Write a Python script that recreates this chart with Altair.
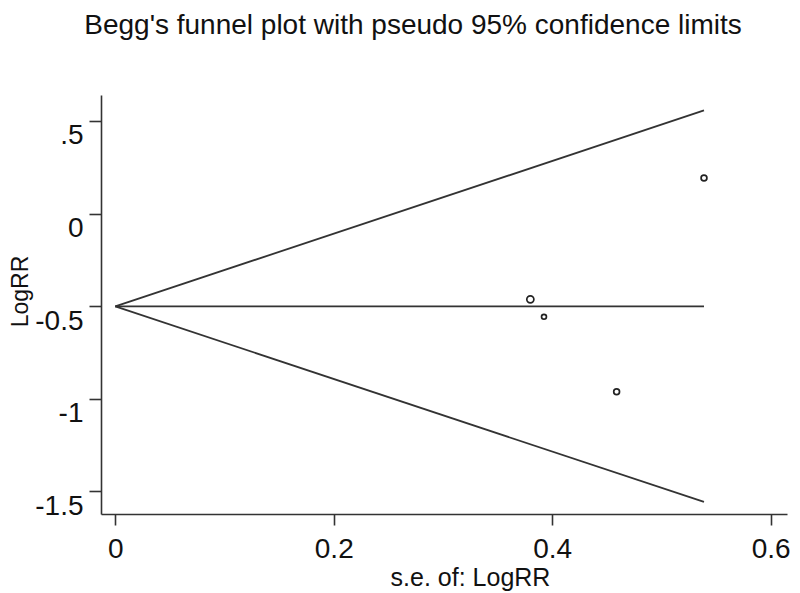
import altair as alt
import pandas as pd

# Study points
study_se = [0.539, 0.380, 0.3925, 0.459]
study_logrr = [0.192, -0.464, -0.558, -0.963]
study_size = [34, 50, 24, 34]

# Pseudo 95% confidence limit lines (end points)
funnel_se = [0.0, 0.539]
funnel_upper = [-0.502, 0.557]
funnel_center = [-0.502, -0.502]
funnel_lower = [-0.502, -1.559]

x_ticks = [0, 0.2, 0.4, 0.6]
y_ticks = [0.5, 0, -0.5, -1, -1.5]
y_tick_labels = [".5", "0", "-0.5", "-1", "-1.5"]

title_text = "Begg's funnel plot with pseudo 95% confidence limits"
FONT = "Liberation Sans"

points = pd.DataFrame({"se": study_se, "logrr": study_logrr, "sz": study_size})
lines = pd.DataFrame(
    [{"se": s, "logrr": v, "line": "upper"} for s, v in zip(funnel_se, funnel_upper)]
    + [{"se": s, "logrr": v, "line": "center"} for s, v in zip(funnel_se, funnel_center)]
    + [{"se": s, "logrr": v, "line": "lower"} for s, v in zip(funnel_se, funnel_lower)]
)

label_expr = " : ".join(
    f"datum.value == {v} ? '{l}'" for v, l in zip(y_ticks[:-1], y_tick_labels[:-1])
) + f" : '{y_tick_labels[-1]}'"

x_scale = alt.Scale(domain=[-0.0131, 0.615], nice=False, zero=False)
y_scale = alt.Scale(domain=[-1.624, 0.6405], nice=False, zero=False)

x_axis = alt.Axis(
    values=x_ticks, format="~g", grid=False,
    domainColor="#333", domainWidth=1.6, tickColor="#333", tickWidth=1.6, tickSize=11,
    labelFont=FONT, labelFontSize=28, labelColor="#111", labelPadding=10,
    labelBaseline="top", labelFlush=False,
    title="s.e. of: LogRR", titleFont=FONT, titleFontSize=25, titleFontWeight="normal",
    titleColor="#111", titleX=369, titleY=71, titleBaseline="alphabetic", titleAlign="center",
)
y_axis = alt.Axis(
    values=y_ticks, labelExpr=label_expr, grid=False,
    domainColor="#333", domainWidth=1.6, tickColor="#333", tickWidth=1.6, tickSize=12,
    labelFont=FONT, labelFontSize=28, labelColor="#111", labelPadding=6,
    labelBaseline="top", labelOffset=1, labelFlush=False,
    title="LogRR", titleFont=FONT, titleFontSize=23, titleFontWeight="normal",
    titleColor="#111", titleX=-74, titleY=196, titleAngle=-90, titleBaseline="alphabetic",
    titleAlign="center",
)

base_x = alt.X("se:Q", scale=x_scale, axis=x_axis)
base_y = alt.Y("logrr:Q", scale=y_scale, axis=y_axis)

line_layer = alt.Chart(lines).mark_line(color="#333", strokeWidth=1.8).encode(
    x=base_x, y=base_y, detail="line:N"
)

point_layer = alt.Chart(points).mark_point(
    shape="circle", filled=False, color="#222", strokeWidth=1.7, opacity=1
).encode(
    x=alt.X("se:Q", scale=x_scale),
    y=alt.Y("logrr:Q", scale=y_scale),
    size=alt.Size("sz:Q", scale=None, legend=None),
)

title_layer = alt.Chart(pd.DataFrame({"t": [title_text]})).mark_text(
    font=FONT, fontSize=28, color="#111", align="center", baseline="alphabetic"
).encode(x=alt.value(312), y=alt.value(-61), text="t:N")

chart = (
    alt.layer(line_layer, point_layer, title_layer)
    .properties(
        width=686, height=419,
        autosize=alt.AutoSizeParams(type="none"),
        padding={"left": 93, "top": 87, "right": 5, "bottom": 79},
        background="white",
    )
    .configure_view(stroke=None)
)

chart.save("out.html", embed_options={"renderer": "svg", "actions": False})
